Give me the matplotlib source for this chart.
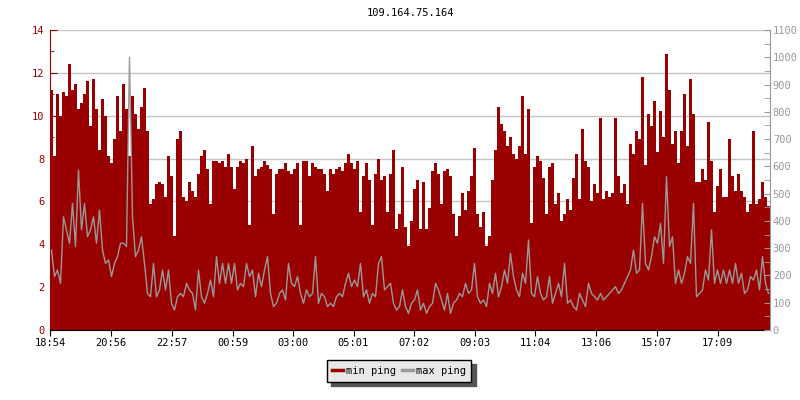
import numpy as np
import matplotlib
matplotlib.use('Agg')
import matplotlib.pyplot as plt
from matplotlib.ticker import MultipleLocator
from matplotlib.lines import Line2D

RED = '#990000'
GRAY = '#999999'
GRID = '#c4c4c4'

title = '109.164.75.164'
start_time = '18:54'
step_minutes = 6  # one sample every 6 minutes, 24 hours shown
tick_labels = ['18:54', '20:56', '22:57', '00:59', '03:00', '05:01',
               '07:02', '09:03', '11:04', '13:06', '15:07', '17:09']

# min ping, left axis (ms)
min_ping = [
    11.2, 8.1, 11.0, 10.0, 11.1, 10.9, 12.4, 11.2, 11.5, 10.3, 10.6, 11.0, 11.6, 9.5, 11.7,
    10.3, 8.4, 10.8, 10.0, 8.1, 7.8, 8.9, 10.9, 9.3, 11.5, 10.3, 8.1, 10.9, 10.1, 9.4,
    10.4, 11.3, 9.3, 5.9, 6.1, 6.8, 6.9, 6.8, 6.2, 8.1, 7.2, 4.4, 8.9, 9.3, 6.2,
    6.0, 6.9, 6.5, 6.2, 7.3, 8.1, 8.4, 7.5, 5.9, 7.9, 7.9, 7.8, 7.9, 7.6, 8.2,
    7.6, 6.6, 7.6, 7.9, 7.8, 8.0, 4.9, 8.6, 7.2, 7.5, 7.6, 7.9, 7.7, 7.5, 5.4,
    7.3, 7.5, 7.5, 7.8, 7.4, 7.3, 7.5, 7.8, 4.9, 7.9, 7.9, 7.2, 7.8, 7.6, 7.5,
    7.5, 7.3, 6.5, 7.5, 7.3, 7.5, 7.6, 7.4, 7.8, 8.2, 7.8, 7.5, 7.9, 5.5, 7.2,
    7.8, 7.0, 4.9, 7.3, 8.0, 7.0, 7.2, 5.5, 7.3, 8.4, 4.7, 5.4, 7.6, 4.8, 3.9,
    5.1, 6.6, 7.0, 4.7, 6.9, 4.7, 5.7, 7.4, 7.8, 7.3, 5.9, 7.4, 7.5, 7.2, 5.4,
    4.4, 5.3, 6.4, 5.6, 6.5, 7.2, 8.5, 5.4, 4.8, 5.5, 3.9, 4.4, 7.0, 8.4, 10.4,
    9.6, 9.3, 8.6, 9.0, 8.2, 8.0, 8.6, 10.9, 8.2, 10.3, 5.0, 7.6, 8.1, 7.9, 7.1,
    5.4, 7.6, 7.8, 5.9, 6.4, 5.1, 5.4, 6.1, 5.6, 7.1, 8.2, 6.1, 9.4, 7.9, 7.6,
    6.0, 6.8, 6.4, 9.9, 6.1, 6.5, 6.2, 6.4, 9.9, 7.2, 6.4, 6.8, 5.9, 8.7, 8.2,
    9.3, 8.9, 11.8, 7.7, 10.1, 9.5, 10.7, 8.3, 10.2, 9.0, 12.9, 11.2, 8.7, 9.3, 7.8,
    9.3, 11.0, 8.6, 11.7, 10.1, 6.9, 6.9, 7.5, 7.0, 9.7, 7.9, 5.5, 6.7, 7.5, 6.2,
    6.2, 8.9, 7.2, 6.5, 7.3, 6.5, 6.2, 5.5, 5.9, 9.3, 5.9, 6.1, 6.9, 6.2, 5.8,
]

# max ping, right axis (ms)
max_ping = [
    293, 196, 220, 171, 415, 367, 318, 464, 306, 587, 367, 464, 342, 367, 415,
    318, 440, 293, 244, 257, 196, 244, 269, 318, 318, 306, 1000, 415, 269, 293,
    342, 244, 134, 122, 244, 122, 147, 220, 147, 220, 98, 73, 122, 134, 122,
    171, 147, 134, 73, 220, 122, 98, 134, 183, 122, 269, 171, 244, 171, 244,
    171, 244, 147, 171, 159, 244, 196, 220, 122, 208, 159, 220, 269, 134, 86,
    98, 134, 147, 110, 244, 171, 159, 196, 134, 98, 147, 122, 134, 269, 98,
    134, 122, 86, 98, 86, 122, 134, 122, 171, 208, 159, 183, 159, 244, 122,
    147, 98, 134, 122, 244, 269, 147, 159, 171, 98, 73, 86, 147, 86, 61,
    98, 110, 147, 73, 98, 61, 86, 98, 171, 147, 110, 73, 134, 61, 98,
    110, 134, 122, 171, 134, 147, 244, 122, 98, 110, 86, 171, 134, 208, 122,
    159, 220, 171, 281, 196, 147, 122, 208, 171, 330, 134, 122, 196, 134, 110,
    122, 196, 98, 134, 171, 122, 244, 98, 110, 86, 73, 134, 110, 86, 171,
    134, 122, 110, 134, 110, 122, 134, 147, 159, 134, 147, 171, 196, 220, 293,
    208, 220, 464, 244, 220, 269, 342, 318, 391, 244, 562, 306, 342, 171, 220,
    171, 208, 269, 244, 464, 122, 134, 147, 220, 183, 367, 171, 220, 171, 220,
    171, 220, 171, 244, 171, 208, 134, 147, 196, 183, 220, 147, 269, 171, 134,
]


def minutes_from_start(label, start=start_time):
    h, m = map(int, label.split(':'))
    sh, sm = map(int, start.split(':'))
    return ((h * 60 + m) - (sh * 60 + sm)) % 1440


plt.rcParams['font.family'] = 'DejaVu Sans Mono'
plt.rcParams['font.size'] = 7.5

fig = plt.figure(figsize=(8, 4), dpi=100)
ax = fig.add_axes([50 / 800, 70 / 400, 720 / 800, 300 / 400])
ax2 = ax.twinx()

n = len(min_ping)
edges = np.arange(n + 1) * step_minutes
centers = edges[:-1] + step_minutes / 2

ax.stairs(min_ping, edges, fill=True, color=RED, linewidth=0)
ax2.plot(centers, max_ping, color=GRAY, linewidth=1)

ax.set_xlim(0, n * step_minutes)
ax.set_ylim(0, 14)
ax2.set_ylim(0, 1100)

# grid from the left scale, under the fill
ax.set_axisbelow(True)
ax.yaxis.set_major_locator(MultipleLocator(2))
ax.yaxis.set_minor_locator(MultipleLocator(1))
ax.yaxis.grid(True, color=GRID, linewidth=1)

ax2.yaxis.set_major_locator(MultipleLocator(100))
ax2.yaxis.set_minor_locator(MultipleLocator(50))

ax.set_xticks([minutes_from_start(t) for t in tick_labels], tick_labels)

ax.tick_params(axis='y', which='both', direction='in', colors=RED, pad=4)
ax.tick_params(axis='y', which='major', length=5)
ax.tick_params(axis='y', which='minor', length=3)
ax.tick_params(axis='x', direction='out', length=4, colors='black', pad=2)
ax2.tick_params(axis='y', which='both', direction='in', colors=GRAY, length=4, pad=2)

for side in ['top', 'right']:
    ax.spines[side].set_visible(False)
for side in ['top', 'left', 'bottom']:
    ax2.spines[side].set_visible(False)
ax.spines['left'].set_color(RED)
ax.spines['bottom'].set_color('black')
ax2.spines['right'].set_color(GRAY)

fig.text(410 / 800, 1 - 13.5 / 400, title, ha='center', va='center')

handles = [Line2D([], [], color=RED, linewidth=2.5),
           Line2D([], [], color=GRAY, linewidth=2.5)]
fig.legend(handles, ['min ping', 'max ping'], loc='center',
           bbox_to_anchor=(399 / 800, 1 - 371 / 400), ncol=2,
           fancybox=False, edgecolor='black', facecolor='#e8e8e8', framealpha=1,
           shadow={'ox': 3, 'oy': -3, 'facecolor': '#555555', 'edgecolor': '#555555', 'alpha': 1},
           handlelength=1.0, handletextpad=0.3, columnspacing=0.6,
           borderpad=0.55, borderaxespad=0)

fig.savefig('out.png', dpi=100)
